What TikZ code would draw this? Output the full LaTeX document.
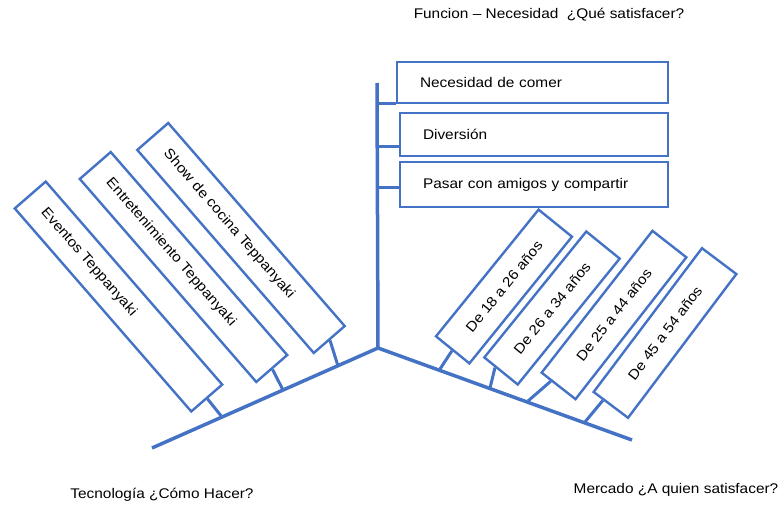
\documentclass[tikz,border=0pt]{standalone}
\usepackage{fontspec}
\setmainfont{Liberation Sans}[FakeStretch=1.1]
\usetikzlibrary{calc}
\definecolor{bl}{HTML}{4472C4}
\begin{document}
\begin{tikzpicture}[x=1pt,y=-1pt,
  txt/.style={font=\fontsize{14}{16}\selectfont, inner sep=0pt},
  box/.style={draw=bl, line width=2.4pt, fill=white, txt, inner sep=0pt},
  topbox/.style={box, align=left, inner xsep=23pt, minimum height=42pt},
  lbox/.style={box, rotate=-49, align=left, minimum height=41pt, text width=229pt, inner xsep=20pt},
  rbox/.style={box, align=center, minimum height=43pt},
  trunk/.style={draw=bl, line width=3.5pt},
  conn/.style={draw=bl, line width=3pt}]
\useasboundingbox (0,0) rectangle (782,506);

% top titles and labels
\node[txt] (title) at (549,15) {Funcion – Necesidad \ ¿Qué satisfacer?};
\node[txt] (tec) at (162,495) {Tecnología ¿Cómo Hacer?};
\node[txt] (mer) at (676,490) {Mercado ¿A quien satisfacer?};

% trunk
\coordinate (vt) at (377,83);
\coordinate (c) at (378,348);
\coordinate (le) at (152,448);
\coordinate (re) at (632,440);
\draw[trunk] (vt) -- (c);
\draw[trunk] (le) -- (c) -- (re);

% top boxes
\node[topbox, text width=225pt, minimum height=41pt] (n1) at (532.5,82.5) {Necesidad de comer};
\node[topbox, text width=222pt, minimum height=43pt] (n2) at (534,134.5) {Diversión};
\node[topbox, text width=222pt, minimum height=45pt] (n3) at (534,184.5) {Pasar con amigos y compartir};
\coordinate (h1) at (377,103);
\coordinate (h2) at (377,146);
\coordinate (h3) at (377,187);
\draw[conn] (h1) -- (h1 -| n1.west);
\draw[conn] (h2) -- (h2 -| n2.west);
\draw[conn] (h3) -- (h3 -| n3.west);

% left boxes
\node[lbox] (l1) at (118.5,296.5) {Eventos Teppanyaki};
\node[lbox] (l2) at (183.5,267) {Entretenimiento Teppanyaki};
\node[lbox] (l3) at (241,238) {Show de cocina Teppanyaki};
\coordinate (lt1) at (222,417);
\coordinate (lt2) at (283,390);
\coordinate (lt3) at (338,366);
\draw[conn] (l1.east) -- (lt1);
\draw[conn] (l2.east) -- (lt2);
\draw[conn] (l3.east) -- (lt3);

% right boxes
\node[rbox, rotate=51, minimum width=163pt] (r1) at (504,286.5) {De 18 a 26 años};
\node[rbox, rotate=51, minimum width=162pt] (r2) at (552,308) {De 26 a 34 años};
\node[rbox, rotate=52, minimum width=180pt] (r3) at (614,315) {De 25 a 44 años};
\node[rbox, rotate=53, minimum width=180pt] (r4) at (665,333) {De 45 a 54 años};
\coordinate (rt1) at (440,369);
\coordinate (rt2) at (490,388);
\coordinate (rt3) at (528,401);
\coordinate (rt4) at (585,422);
\draw[conn] (r1.west) -- (rt1);
\draw[conn] ($(r2.north west)!0.35!(r2.south west)$) -- (rt2);
\draw[conn] ($(r3.north west)!0.3!(r3.south west)$) -- (rt3);
\draw[conn] ($(r4.north west)!0.3!(r4.south west)$) -- (rt4);
\end{tikzpicture}
\end{document}
